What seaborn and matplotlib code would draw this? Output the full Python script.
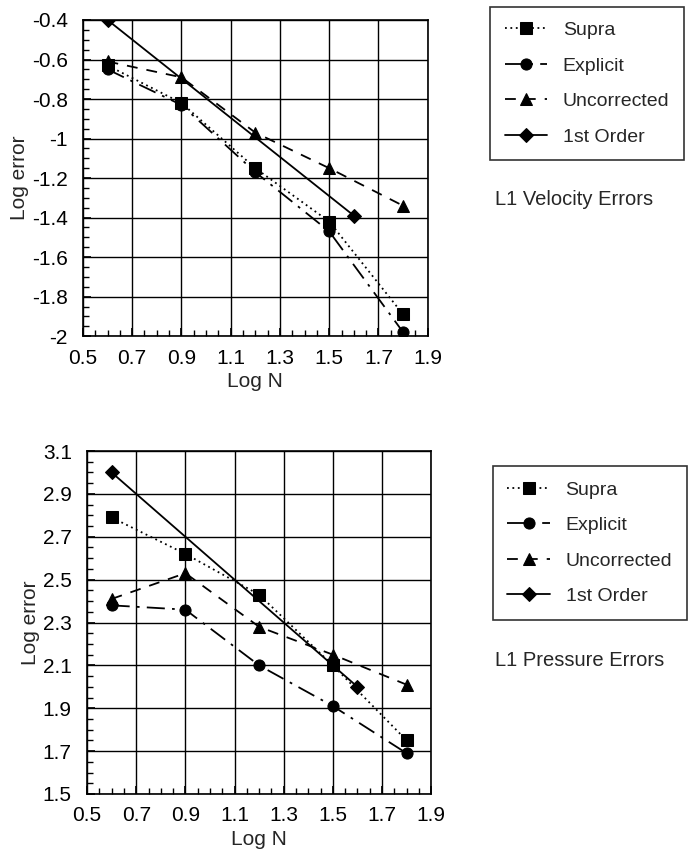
import numpy as np
import pandas as pd
import matplotlib
matplotlib.use("Agg")
import matplotlib.pyplot as plt
from matplotlib.ticker import MultipleLocator
import seaborn as sns

# Data
log_n = [0.6, 0.9, 1.2, 1.5, 1.8]
log_n_first = [0.6, 1.6]

vel_supra = [-0.63, -0.82, -1.15, -1.42, -1.89]
vel_explicit = [-0.65, -0.83, -1.17, -1.47, -1.98]
vel_uncorrected = [-0.61, -0.69, -0.97, -1.15, -1.34]
vel_first = [-0.40, -1.39]

pres_supra = [2.79, 2.62, 2.43, 2.10, 1.75]
pres_explicit = [2.38, 2.36, 2.10, 1.91, 1.69]
pres_uncorrected = [2.41, 2.53, 2.28, 2.15, 2.01]
pres_first = [3.00, 2.00]

series = ["Supra", "Explicit", "Uncorrected", "1st Order"]
styles = {
    "Supra": dict(ls=(0, (1, 2)), marker="s", ms=8),
    "Explicit": dict(ls=(0, (10, 4, 1.5, 4)), marker="o", ms=8),
    "Uncorrected": dict(ls=(0, (6, 5)), marker="^", ms=8),
    "1st Order": dict(ls="-", marker="D", ms=7),
}

sns.set_theme(style="white")
plt.rcParams["font.family"] = ["Liberation Sans", "DejaVu Sans"]
plt.rcParams["font.size"] = 14

fig = plt.figure(figsize=(6.91, 8.51), dpi=100)
ax1 = fig.add_axes([0.120, 0.605, 0.499, 0.3715])
ax2 = fig.add_axes([0.126, 0.067, 0.498, 0.403])


def draw(ax, vals, ylim, yticks, title, leg_box, title_y):
    for name in series:
        x = log_n_first if name == "1st Order" else log_n
        df = pd.DataFrame({"x": x, "y": vals[name]})
        st = styles[name]
        sns.lineplot(data=df, x="x", y="y", ax=ax, color="black", lw=1.3,
                     linestyle=st["ls"], marker=st["marker"], markersize=st["ms"],
                     markeredgecolor="black", markerfacecolor="black", label=name,
                     legend=False)
    ax.set_xlim(0.5, 1.9)
    ax.set_ylim(*ylim)
    ax.set_xticks(np.arange(0.5, 1.91, 0.2))
    ax.set_yticks(yticks)
    ax.xaxis.set_minor_locator(MultipleLocator(0.05))
    ax.yaxis.set_minor_locator(MultipleLocator(0.05))
    ax.tick_params(which="both", direction="in", left=True, bottom=True, colors="black",
                   labelsize=15)
    ax.tick_params(which="major", length=6)
    ax.tick_params(axis="x", which="major", pad=9)
    ax.tick_params(axis="y", which="major", pad=11)
    ax.tick_params(which="minor", length=4)
    ax.grid(True, which="major", color="black", lw=1.0)
    for sp in ax.spines.values():
        sp.set_color("black")
        sp.set_linewidth(1.2)
    ax.set_xlabel("Log N", fontsize=15, labelpad=3)
    ax.set_ylabel("Log error", fontsize=15, labelpad=2)
    handles, labels = ax.get_legend_handles_labels()
    leg = fig.legend(handles, labels, loc="upper left", bbox_to_anchor=leg_box,
                     frameon=True, fancybox=False, edgecolor="black", fontsize=14,
                     handlelength=2.2, labelspacing=0.92, borderpad=0.75,
                     handletextpad=0.8, borderaxespad=0)
    leg.get_frame().set_linewidth(1.2)
    fig.text(0.716, title_y, title, fontsize=14.5, ha="left", va="center")


draw(ax1,
     {"Supra": vel_supra, "Explicit": vel_explicit,
      "Uncorrected": vel_uncorrected, "1st Order": vel_first},
     (-2.0, -0.4), np.arange(-2.0, -0.39, 0.2), "L1 Velocity Errors",
     (0.709, 0.992), 0.765)
ax1.set_yticklabels([f"{round(v, 1):g}" for v in np.arange(-2.0, -0.39, 0.2)])
draw(ax2,
     {"Supra": pres_supra, "Explicit": pres_explicit,
      "Uncorrected": pres_uncorrected, "1st Order": pres_first},
     (1.5, 3.1), np.arange(1.5, 3.11, 0.2), "L1 Pressure Errors",
     (0.713, 0.452), 0.224)
ax2.set_yticklabels([f"{v:.1f}" for v in np.arange(1.5, 3.11, 0.2)])
for ax in (ax1, ax2):
    ax.set_xticklabels([f"{v:.1f}" for v in np.arange(0.5, 1.91, 0.2)])

fig.savefig("out.png", dpi=100)
